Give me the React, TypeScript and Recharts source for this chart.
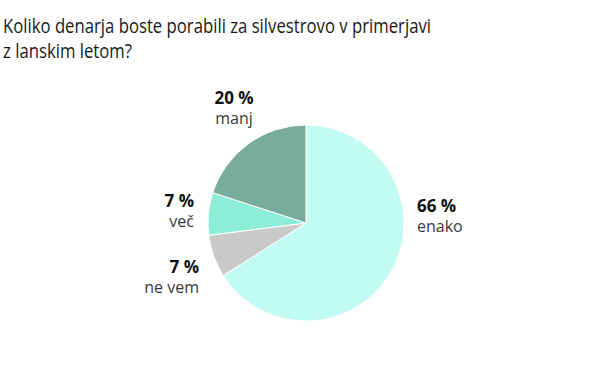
import { PieChart, Pie, Cell } from 'recharts';

const categories = ['enako', 'ne vem', 'več', 'manj'];
const shares = [66, 7, 7, 20];
const colors = ['#c2fbf1', '#c9c9c9', '#8eedd6', '#79ac9c'];
const titleLines = ['Koliko denarja boste porabili za silvestrovo v primerjavi', 'z lanskim letom?'];
const titleWidths = [428, 129];

const data = categories.map((name, i) => ({ name, value: shares[i] }));

// label placement relative to pie centre
const labelSpots: Record<string, { dx: number; dy: number; anchor: 'start' | 'middle' | 'end' }> = {
  enako: { dx: 111, dy: -11, anchor: 'start' },
  'ne vem': { dx: -107, dy: 50, anchor: 'end' },
  več: { dx: -112, dy: -16, anchor: 'end' },
  manj: { dx: -72, dy: -119, anchor: 'middle' },
};

const renderLabel = (props: any) => {
  const { cx, cy, name, value } = props;
  const spot = labelSpots[name];
  const x = cx + spot.dx;
  const y = cy + spot.dy;
  return (
    <g>
      <text x={x} y={y} textAnchor={spot.anchor} fill="#111" fontSize={17} fontWeight={700} fontFamily="'Open Sans', sans-serif">
        {`${value} %`}
      </text>
      <text x={x} y={y + 20} textAnchor={spot.anchor} fill="#3a3a3a" fontSize={16} fontFamily="'Open Sans', sans-serif">
        {name}
      </text>
    </g>
  );
};

export default function App() {
  return (
    <div style={{ position: 'absolute', left: 0, top: 0, width: 600, height: 382, background: '#fff', overflow: 'hidden' }}>
      <svg width={600} height={70} style={{ position: 'absolute', left: 0, top: 0 }}>
        {titleLines.map((t, i) => (
          <text
            key={t}
            x={3}
            y={33 + i * 25}
            textLength={titleWidths[i]}
            lengthAdjust="spacingAndGlyphs"
            fontFamily="'Open Sans', sans-serif"
            fontSize={20}
            fill="#1a1a1a"
          >
            {t}
          </text>
        ))}
      </svg>
      <div style={{ position: 'absolute', left: 0, top: 0 }}>
        <PieChart width={600} height={382} margin={{ top: 0, right: 0, bottom: 0, left: 0 }}>
          <Pie
            data={data}
            dataKey="value"
            nameKey="name"
            cx={306}
            cy={223}
            outerRadius={98}
            startAngle={90}
            endAngle={-270}
            stroke="#ffffff"
            strokeWidth={1}
            label={renderLabel}
            labelLine={false}
            isAnimationActive={false}
          >
            {data.map((d, i) => (
              <Cell key={d.name} fill={colors[i]} />
            ))}
          </Pie>
        </PieChart>
      </div>
    </div>
  );
}
